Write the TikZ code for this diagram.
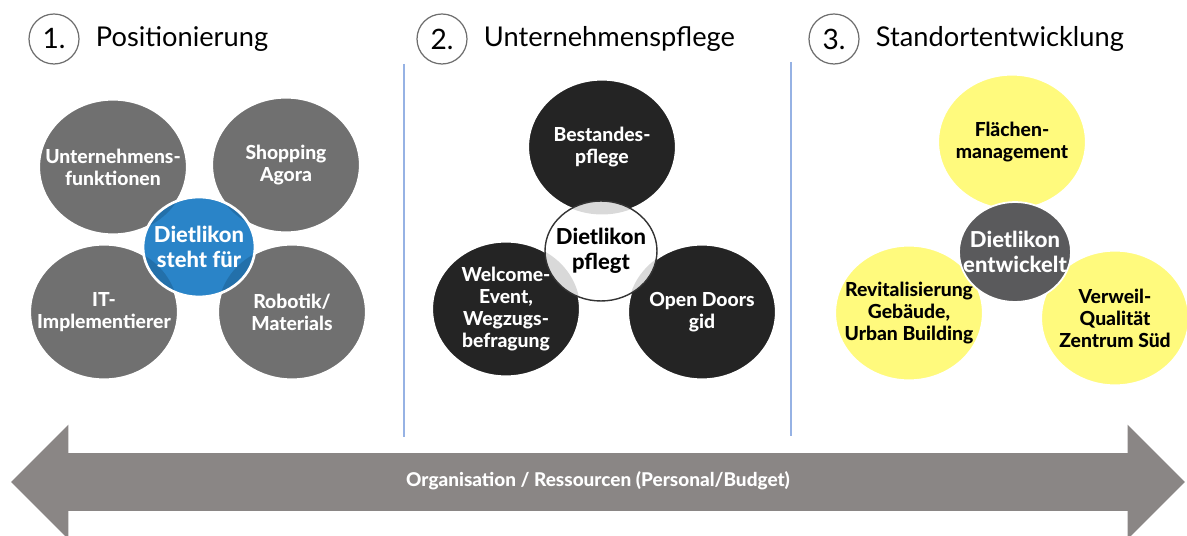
\documentclass[tikz,border=0pt]{standalone}
\usepackage{fontspec}
\setmainfont{Lato}[BoldFont={Lato Heavy}]
\usetikzlibrary{positioning,shapes.geometric,shapes.arrows}

\definecolor{discgrey}{RGB}{112,112,112}
\definecolor{discblack}{RGB}{36,36,36}
\definecolor{discyellow}{RGB}{255,250,125}
\definecolor{hubblue}{RGB}{42,132,200}
\definecolor{hubgrey}{RGB}{90,90,92}
\definecolor{bandgrey}{RGB}{138,134,133}
\definecolor{rulerblue}{RGB}{150,178,228}
\definecolor{ringgrey}{RGB}{110,110,110}

\begin{document}
\begin{tikzpicture}[
  x=0.02cm, y=-0.02cm,
  disc/.style={ellipse, minimum width=2.96cm, minimum height=2.7cm, inner sep=-0.6cm, align=center,
    draw=white, line width=1.2pt, font=\fontsize{11}{12.5}\selectfont\bfseries},
  greydisc/.style={disc, fill=discgrey, text=white},
  blackdisc/.style={disc, fill=discblack, text=white},
  yellowdisc/.style={disc, fill=discyellow, text=black},
  hub/.style={ellipse, minimum width=2.24cm, minimum height=2cm, inner sep=-0.5cm, align=center,
    font=\fontsize{12.5}{14}\selectfont\bfseries},
  overlap/.style={path picture={
    \foreach \d in {#1}
      \fill[black, opacity=.15] (\d.center) ellipse [x radius=1.48cm, y radius=1.35cm];}},
  numring/.style={circle, draw=ringgrey, line width=0.7pt, minimum size=1cm, inner sep=0pt,
    font=\fontsize{16}{18}\selectfont},
  heading/.style={inner sep=0pt, right=0.32cm of #1, font=\fontsize{15.5}{18}\selectfont},
  divider/.style={rulerblue, line width=0.8pt}
]
\useasboundingbox (0,0) rectangle (1187,536);

% headings
\node[numring] (n1) at (54,39) {1.};
\node[heading=n1] (t1) {Positionierung};
\node[numring] (n2) at (442,39) {2.};
\node[heading=n2] (t2) {Unternehmenspflege};
\node[numring] (n3) at (834,39) {3.};
\node[heading=n3] (t3) {Standortentwicklung};

\draw[divider] (404,64) -- (404,437);
\draw[divider] (791,62) -- (791,436);

% 1. Positionierung
\node[greydisc] (uf) at (113,167) {Unternehmens-\\funktionen};
\node[greydisc] (sa) at (286,165) {Shopping\\Agora};
\node[greydisc] (it) at (104,312) {IT-\\Implementierer};
\node[greydisc] (ro) at (292,312) {Robotik/\\Materials};
\node[hub, fill=hubblue, draw=white, line width=1.5pt, text=white, overlap={uf,sa,it,ro}] (h1) at (199,247)
  {Dietlikon\\steht für};

% 2. Unternehmenspflege
\node[blackdisc] (bp) at (602,147) {Bestandes-\\pflege};
\node[blackdisc] (we) at (506,309) {Welcome-\\Event,\\Wegzugs-\\befragung};
\node[blackdisc] (od) at (702,312) {Open Doors\\gid};
\node[hub, fill=white, draw=black!80, line width=0.8pt, overlap={bp,we,od}] (h2) at (601,251)
  {Dietlikon\\pflegt};

% 3. Standortentwicklung
\node[yellowdisc] (fm) at (1012,142) {Flächen-\\management};
\node[yellowdisc] (rg) at (909,313) {Revitalisierung\\Gebäude,\\Urban Building};
\node[yellowdisc] (vq) at (1115,318) {Verweil-\\Qualität\\Zentrum Süd};
\node[hub, fill=hubgrey, draw=white, line width=1pt, text=white] (h3) at (1015,252)
  {Dietlikon\\entwickelt};

% Ressourcen
\node[double arrow, fill=bandgrey, text=white, minimum height=23.48cm, minimum width=2.28cm,
  double arrow head extend=0.57cm, inner xsep=0pt, inner ysep=0.405cm,
  text height=0.25cm, text depth=0.08cm, font=\fontsize{10.8}{12}\selectfont\bfseries] (band) at (598,482)
  {Organisation / Ressourcen (Personal/Budget)};
\end{tikzpicture}
\end{document}
